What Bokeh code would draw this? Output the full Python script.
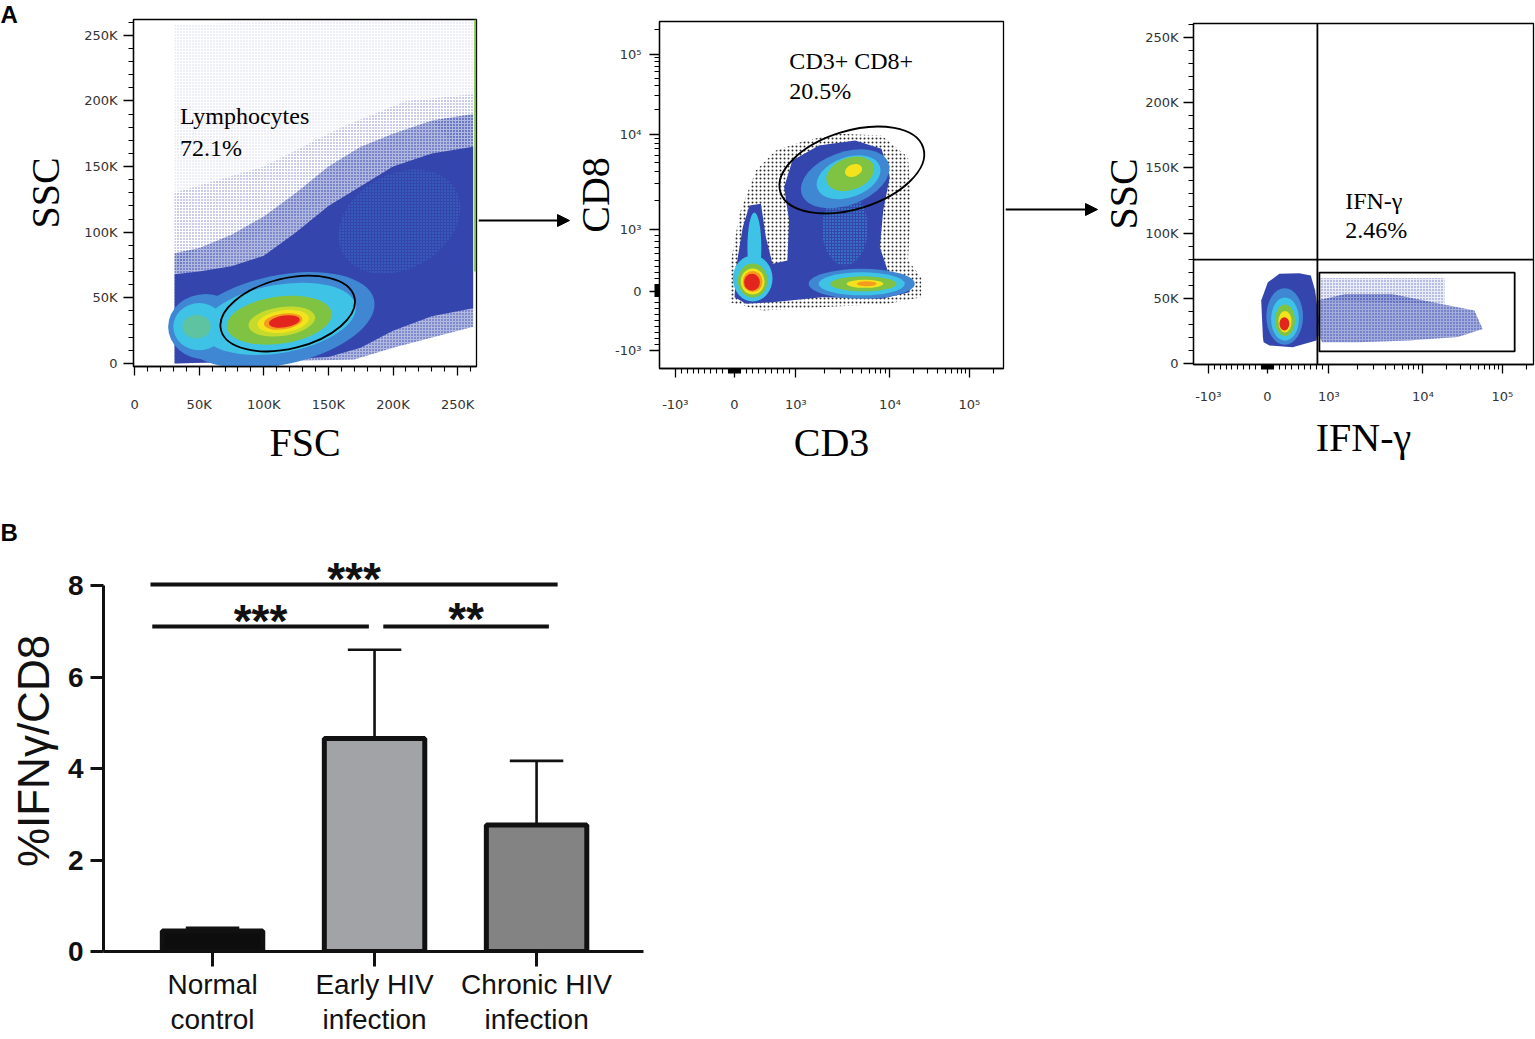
import math
from bokeh.plotting import figure
from bokeh.layouts import row, column
from bokeh.models import Range1d, FixedTicker, Label, Arrow, NormalHead, ColumnDataSource
from bokeh.core.properties import value
from bokeh.embed import file_html
from bokeh.resources import INLINE

# ======================= DATA =======================
# ---- A1 : FSC vs SSC (values in K) ----
scatter_ticks = [0, 50, 100, 150, 200, 250]
scatter_tick_labels = ["0", "50K", "100K", "150K", "200K", "250K"]
scatter_minor = [v for v in range(0, 261, 10) if v % 50]

a1_sparse_x = [31, 31, 150, 262, 262, 200, 140, 90, 55]
a1_sparse_y = [60, 258, 262, 262, 170, 150, 120, 95, 75]
a1_near_x = [31, 31, 100, 160, 210, 262, 262, 230, 200, 175, 150, 125, 100, 75, 50]
a1_near_y = [70, 130, 150, 180, 200, 205, 150, 185, 175, 165, 150, 130, 112, 98, 88]
a1_medium_x = [31, 170, 200, 262, 262, 230, 200, 175, 150, 125, 100, 75, 50, 31]
a1_medium_y = [0, 3, 12, 28, 190, 185, 175, 165, 150, 130, 112, 98, 88, 84]
a1_dense_x = [31, 100, 150, 175, 200, 230, 262, 262, 230, 200, 175, 150, 125, 100, 75, 50, 31]
a1_dense_y = [0, 2, 5, 12, 25, 36, 42, 165, 160, 150, 135, 120, 100, 82, 74, 70, 68]
a1_speckle = dict(x=[205], y=[108], w=[100], h=[72], angle=[30])
a1_pop_x = [112, 55, 112, 50, 48, 112, 114, 115, 115, 116]
a1_pop_y = [33, 28, 34, 28, 28, 33, 32, 32, 32, 32]
a1_pop_w = [150, 58, 120, 40, 22, 82, 52, 40, 30, 24]
a1_pop_h = [68, 50, 52, 36, 18, 36, 22, 17, 12, 9]
a1_pop_angle = [12, 0, 10, 0, 0, 8, 8, 8, 8, 8]
a1_pop_level = [1, 1, 2, 2, 3, 4, 5, 6, 7, 8]
a1_gate = dict(x=[118.5], y=[38], w=[106.3], h=[53.5], angle=[13.7])
a1_gate_name, a1_gate_pct = "Lymphocytes", "72.1%"

# ---- biexponential axes (A2, A3) ----
biex_tick_values = [-1000, 0, 1000, 10000, 100000]
biex_tick_labels = ["-10³", "0", "10³", "10⁴", "10⁵"]
biex_minor_values = ([-100 * k for k in range(1, 10)] + [-10 * k for k in range(1, 10)] +
                     [10 * k for k in range(1, 10)] + [100 * k for k in range(1, 10)] +
                     [1000 * k for k in range(2, 10)] + [10000 * k for k in range(2, 10)] + [200000])

# ---- A2 : CD3 vs CD8 (display units) ----
a2_halo_x = [54.7, 56.3, 64.7, 81.3, 101.3, 131.3, 164.7, 208, 234.7, 238, 234.7, 248, 248, 214.7, 148, 88]
a2_halo_y = [48.3, 90, 136.7, 180, 200, 210, 216.7, 215, 193.3, 146.7, 90, 73.3, 53.3, 46.7, 43.3, 40]
a2_dense_x = [59.7, 61.3, 68, 74.7, 86.3, 91.3, 98, 113, 114.7, 109.7, 118, 144.7, 181.3, 208, 216.3,
              209.7, 206.3, 214.7, 236.3, 236.3, 208, 148, 98, 71.3]
a2_dense_y = [53.3, 83.3, 123.3, 145, 146.7, 113.3, 86.7, 90, 130, 163.3, 190, 205, 210, 201.7, 173.3,
              140, 103.3, 78.3, 73.3, 58.3, 51.7, 53.3, 48.3, 46.7]
a2_speckle = dict(x=[171], y=[122], w=[46], h=[74], angle=[0])
a2_pop_x = [171.3, 174.7, 176.3, 179.7, 79.7, 78, 78, 78, 78, 77.3, 188, 188, 189.7, 191.3, 193]
a2_pop_y = [171.7, 173.3, 176.7, 180, 103, 72, 70, 69, 69, 68.3, 66.7, 66.7, 66.7, 66.7, 66.7]
a2_pop_w = [93, 67, 50, 18, 14, 40, 30, 24, 20, 16, 107, 87, 67, 37, 20]
a2_pop_h = [53, 40, 32, 12, 70, 46, 34, 26, 21, 17, 30, 23, 15, 8, 5]
a2_pop_angle = [20, 20, 20, 20, 0, 0, 0, 0, 0, 0, 0, 0, 0, 0, 0]
a2_pop_level = [1, 2, 4, 6, 2, 2, 4, 6, 7, 8, 1, 2, 4, 6, 7]
a2_gate = dict(x=[178], y=[180.5], w=[150.9], h=[78.2], angle=[17.2])
a2_gate_name, a2_gate_pct = "CD3+ CD8+", "20.5%"

# ---- A3 : IFN-γ (display units) vs SSC (K) ----
a3_dense_x = [55, 53.3, 60, 71.7, 91.7, 103.3, 107.7, 111.7, 109, 85, 61.7, 55.7]
a3_dense_y = [20.2, 48.2, 62.3, 68.7, 69.2, 67.4, 55.9, 32.9, 17.6, 12.5, 13.8, 16.3]
a3_pos_x = [110, 138.3, 185, 235, 268.3, 276.7, 251.7, 201.7, 151.7, 115, 110]
a3_pos_y = [48.2, 53.3, 53.3, 45.6, 40.5, 26.5, 20.2, 17.6, 16.3, 16.3, 22.7]
a3_sparse_x = [111.7, 238.3, 238.3, 111.7]
a3_sparse_y = [65.6, 65.6, 45.6, 48.2]
a3_pop_x = [77, 77.3, 77.3, 77.3, 76.7]
a3_pop_y = [36, 34, 33, 32, 30.4]
a3_pop_w = [37, 28, 20, 13.3, 10]
a3_pop_h = [43.4, 33.2, 24.3, 16.6, 10.2]
a3_pop_level = [1, 2, 4, 6, 8]
a3_quad_x, a3_quad_y = 110, 79.6
a3_box = dict(left=112, right=309, bottom=9.2, top=69.7)
a3_gate_name, a3_gate_pct = "IFN-γ", "2.46%"

# ---- B : bar chart ----
groups = ["Normal\ncontrol", "Early HIV\ninfection", "Chronic HIV\ninfection"]
means = [0.45, 4.66, 2.77]
sds = [0.07, 1.94, 1.40]
bar_colors = ["#0d0d0d", "#a2a3a7", "#828382"]
sig_x0 = [0.617, 0.628, 2.054]
sig_x1 = [3.130, 1.965, 3.076]
sig_y = [8.03, 7.11, 7.11]
sig_text_y = [8.14, 7.23, 7.27]
sig_labels = ["***", "***", "**"]

# ======================= STYLE =======================
PAL = ["#3446ad", "#3f86d3", "#3ec3e6", "#5ec3a0", "#80c342", "#c6da2c", "#f3e31c", "#f59b1d", "#e3261d"]
SERIF = "Liberation Serif"
SANS = "Liberation Sans"
TICKFONT = "DejaVu Sans"
ROW1_H = 470


def biex(v):
    if v < 0:
        return 59.5 + v * 0.0595
    if v <= 1000:
        return 59.5 + v * 0.062
    lv = math.log10(v)
    if lv <= 4:
        return 121.5 + (lv - 3) * 95
    return 216.5 + (lv - 4) * 80


def mapper(fl, ft, fw, fh, xr, yr):
    def f(px, py):
        return (xr[0] + (px - fl) / fw * (xr[1] - xr[0]),
                yr[1] - (py - ft) / fh * (yr[1] - yr[0]))
    return f


def no_align(p):
    if "frame_align" in p.properties():
        p.frame_align = False
    return p


def make_fig(width, height, fl, ft, fw, fh, xr, yr):
    p = figure(width=width, height=height, x_range=Range1d(*xr), y_range=Range1d(*yr),
               output_backend="svg", toolbar_location=None,
               min_border_left=fl, min_border_top=ft,
               min_border_right=width - fl - fw, min_border_bottom=height - ft - fh)
    p.grid.visible = False
    p.background_fill_color = "white"
    p.border_fill_color = "white"
    return no_align(p)


def blank_fig(w, h):
    p = figure(width=w, height=h, x_range=Range1d(0, w), y_range=Range1d(0, h),
               x_axis_type=None, y_axis_type=None, min_border=0,
               output_backend="svg", toolbar_location=None)
    p.outline_line_color = None
    p.grid.visible = False
    p.background_fill_color = "white"
    p.border_fill_color = "white"
    return no_align(p)


def style_flow_axis(ax, ticks, minor, labels, title, tick_stand, label_stand, tick_out=9):
    ax.ticker = FixedTicker(ticks=ticks, minor_ticks=minor)
    ax.major_label_overrides = dict(zip(ticks, labels))
    ax.axis_line_color = "black"
    ax.axis_line_width = 1.3
    ax.major_tick_line_color = "black"
    ax.major_tick_line_width = 1.3
    ax.minor_tick_line_color = "black"
    ax.minor_tick_line_width = 1.1
    ax.major_tick_in = 0
    ax.major_tick_out = tick_out
    ax.minor_tick_in = 0
    ax.minor_tick_out = 5
    ax.major_label_text_font = TICKFONT
    ax.major_label_text_font_size = "13px"
    ax.major_label_text_color = "#333333"
    ax.major_label_standoff = tick_stand
    ax.axis_label = title
    ax.axis_label_text_font = SERIF
    ax.axis_label_text_font_size = "40px"
    ax.axis_label_text_font_style = "normal"
    ax.axis_label_text_color = "black"
    ax.axis_label_standoff = label_stand


def draw_pops(p, xs, ys, ws, hs, angles, levels):
    src = ColumnDataSource(dict(x=xs, y=ys, w=ws, h=hs, a=angles, c=[PAL[l] for l in levels]))
    p.ellipse(x="x", y="y", width="w", height="h", angle="a", angle_units="deg",
              fill_color="c", line_color=None, source=src)


def dots(p, xs, ys, color, alpha, tint=0.0):
    p.patch(xs, ys, fill_color=color, fill_alpha=tint, line_color=None, hatch_pattern="dot",
            hatch_color=color, hatch_scale=3, hatch_alpha=alpha)


def gate_labels(p, m, px, py1, py2, t1, t2):
    for py, t in ((py1, t1), (py2, t2)):
        x, y = m(px, py)
        p.add_layout(Label(x=x, y=y, text=t, text_font=SERIF, text_font_size="24px",
                           text_baseline="middle", text_color="black"))


def arrow_fig(w, y_page, tip):
    p = blank_fig(w, ROW1_H)
    y = ROW1_H - y_page
    p.add_layout(Arrow(end=NormalHead(size=12, fill_color="black", line_color="black", line_width=1),
                       x_start=0, y_start=y, x_end=tip, y_end=y, line_width=2, line_color="black"))
    return p


biex_major = [round(biex(v), 2) for v in biex_tick_values]
biex_minor = [round(biex(v), 2) for v in biex_minor_values]

# ======================= panel letter A =======================
figA = blank_fig(20, ROW1_H)
figA.text(x=[0], y=[ROW1_H - 14], text=["A"], text_font=value(SANS), text_font_size="24px",
          text_font_style="bold", text_baseline="alphabetic", text_align="left", text_color="black")

# ======================= A1 =======================
X1R, Y1R = (-0.8, 264.6), (-2.3, 262.0)
p1 = make_fig(458, ROW1_H, 109, 19, 347, 347, X1R, Y1R)
m1 = mapper(129, 19, 347, 347, X1R, Y1R)
dots(p1, a1_sparse_x, a1_sparse_y, PAL[0], 0.22)
dots(p1, a1_near_x, a1_near_y, PAL[0], 0.5)
dots(p1, a1_medium_x, a1_medium_y, PAL[0], 1.0, 0.38)
p1.patch(a1_dense_x, a1_dense_y, fill_color=PAL[0], line_color=None)
p1.ellipse(x=a1_speckle["x"], y=a1_speckle["y"], width=a1_speckle["w"], height=a1_speckle["h"],
           angle=a1_speckle["angle"], angle_units="deg", fill_color=None, line_color=None,
           hatch_pattern="dot", hatch_color=PAL[1], hatch_scale=3, hatch_alpha=0.8)
draw_pops(p1, a1_pop_x, a1_pop_y, a1_pop_w, a1_pop_h, a1_pop_angle, a1_pop_level)
p1.ellipse(x=a1_gate["x"], y=a1_gate["y"], width=a1_gate["w"], height=a1_gate["h"],
           angle=a1_gate["angle"], angle_units="deg", fill_color=None, line_color="black", line_width=1.8)
p1.segment(x0=[263.6], y0=[70], x1=[263.6], y1=[262], line_color="#7cc242", line_width=2)
p1.outline_line_color = "black"
p1.outline_line_width = 1.3
style_flow_axis(p1.xaxis[0], scatter_ticks, scatter_minor, scatter_tick_labels, "FSC", 21, 5)
style_flow_axis(p1.yaxis[0], scatter_ticks, scatter_minor, scatter_tick_labels, "SSC", 6, 13, 10)
gate_labels(p1, m1, 176, 115, 147, a1_gate_name, a1_gate_pct)

arrow1 = arrow_fig(92, 220, 91)

# ======================= A2 =======================
X2R, Y2R = (-16, 331), (-18, 329)
p2 = make_fig(435, ROW1_H, 86, 21, 347, 347, X2R, Y2R)
m2 = mapper(656, 21, 347, 347, X2R, Y2R)
p2.patch(a2_halo_x, a2_halo_y, fill_color=None, line_color=None,
         hatch_pattern="dot", hatch_color="#111111", hatch_scale=4, hatch_alpha=0.9)
p2.patch(a2_dense_x, a2_dense_y, fill_color=PAL[0], line_color=None)
p2.ellipse(x=a2_speckle["x"], y=a2_speckle["y"], width=a2_speckle["w"], height=a2_speckle["h"],
           angle=a2_speckle["angle"], angle_units="deg", fill_color=None, line_color=None,
           hatch_pattern="dot", hatch_color=PAL[2], hatch_scale=3, hatch_alpha=0.8)
draw_pops(p2, a2_pop_x, a2_pop_y, a2_pop_w, a2_pop_h, a2_pop_angle, a2_pop_level)
p2.ellipse(x=a2_gate["x"], y=a2_gate["y"], width=a2_gate["w"], height=a2_gate["h"],
           angle=a2_gate["angle"], angle_units="deg", fill_color=None, line_color="black", line_width=1.8)
p2.outline_line_color = "black"
p2.outline_line_width = 1.3
style_flow_axis(p2.xaxis[0], biex_major, biex_minor, biex_tick_labels, "CD3", 19, 5)
style_flow_axis(p2.yaxis[0], biex_major, biex_minor, biex_tick_labels, "CD8", 8, -6, 10)
gate_labels(p2, m2, 787, 60, 90, a2_gate_name, a2_gate_pct)

arrow2 = arrow_fig(93, 209, 92)

# ======================= A3 =======================
X3R, Y3R = (-15, 328), (-0.8, 260.6)
p3 = make_fig(437, ROW1_H, 92, 23, 343, 341, X3R, Y3R)
m3 = mapper(1190, 23, 343, 341, X3R, Y3R)
dots(p3, a3_sparse_x, a3_sparse_y, PAL[0], 0.7, 0.1)
dots(p3, a3_pos_x, a3_pos_y, PAL[0], 1.0, 0.45)
p3.patch(a3_dense_x, a3_dense_y, fill_color=PAL[0], line_color=None)
draw_pops(p3, a3_pop_x, a3_pop_y, a3_pop_w, a3_pop_h, [0] * len(a3_pop_x), a3_pop_level)
p3.segment(x0=[a3_quad_x], y0=[Y3R[0]], x1=[a3_quad_x], y1=[Y3R[1]], line_color="black", line_width=1.8)
p3.segment(x0=[X3R[0]], y0=[a3_quad_y], x1=[X3R[1]], y1=[a3_quad_y], line_color="black", line_width=1.8)
p3.quad(left=[a3_box["left"]], right=[a3_box["right"]], bottom=[a3_box["bottom"]], top=[a3_box["top"]],
        fill_color=None, line_color="black", line_width=1.8)
p3.outline_line_color = "black"
p3.outline_line_width = 1.3
style_flow_axis(p3.xaxis[0], biex_major, biex_minor, biex_tick_labels, "IFN-γ", 15, 8)
style_flow_axis(p3.yaxis[0], scatter_ticks, scatter_minor, scatter_tick_labels, "SSC", 5, -4, 10)
gate_labels(p3, m3, 1343, 200, 229, a3_gate_name, a3_gate_pct)

# ======================= panel letter B =======================
FIGB_H = 80
figB = blank_fig(650, FIGB_H)
figB.text(x=[0], y=[18], text=["B"], text_font=value(SANS), text_font_size="24px",
          text_font_style="bold", text_baseline="alphabetic", text_align="left", text_color="black")

# ======================= B =======================
# frame spans page y 550 (top) .. 954 (value 0), 46.05 px per unit
XBR, YBR = (0.327, 3.660), (0.0, 8.773)
p4 = make_fig(650, 488, 103, 0, 540, 404, XBR, YBR)
xs = [1, 2, 3]
p4.vbar(x=xs, top=means, width=0.62, bottom=0, fill_color=bar_colors, line_color="#111111", line_width=5)
tops = [m + s for m, s in zip(means, sds)]
p4.segment(x0=xs, y0=means, x1=xs, y1=tops, line_color="#111111", line_width=2.6)
p4.segment(x0=[x - 0.165 for x in xs], y0=tops, x1=[x + 0.165 for x in xs], y1=tops,
           line_color="#111111", line_width=2.6)
p4.segment(x0=sig_x0, y0=sig_y, x1=sig_x1, y1=sig_y, line_color="#111111", line_width=4)
p4.text(x=[(a + b) / 2 for a, b in zip(sig_x0, sig_x1)], y=sig_text_y, text=sig_labels,
        text_font=value(SANS), text_font_size="46px", text_font_style="bold",
        text_align="center", text_baseline="alphabetic", text_color="#111111")
p4.outline_line_color = None
xa = p4.xaxis[0]
xa.ticker = FixedTicker(ticks=xs)
xa.major_label_overrides = dict(zip(xs, groups))
xa.axis_line_width = 3
xa.axis_line_color = "#111111"
xa.major_tick_line_width = 3
xa.major_tick_line_color = "#111111"
xa.major_tick_in = 0
xa.major_tick_out = 15
xa.minor_tick_line_color = None
xa.major_label_text_font = SANS
xa.major_label_text_font_size = "28px"
xa.major_label_text_line_height = 1.15
xa.major_label_text_color = "#111111"
xa.major_label_standoff = 2
ya = p4.yaxis[0]
ya.ticker = FixedTicker(ticks=[0, 2, 4, 6, 8])
ya.bounds = (0, 8)
ya.axis_line_width = 3
ya.axis_line_color = "#111111"
ya.major_tick_line_width = 3
ya.major_tick_line_color = "#111111"
ya.major_tick_in = 0
ya.major_tick_out = 13
ya.minor_tick_line_color = None
ya.major_label_text_font = SANS
ya.major_label_text_font_size = "28px"
ya.major_label_text_font_style = "bold"
ya.major_label_text_color = "#111111"
ya.major_label_standoff = 7
ya.axis_label = "%IFNγ/CD8"
ya.axis_label_text_font = SANS
ya.axis_label_text_font_size = "44px"
ya.axis_label_text_font_style = "normal"
ya.axis_label_text_color = "#111111"
ya.axis_label_standoff = 7

layout = column(row(figA, p1, arrow1, p2, arrow2, p3), column(figB, p4))
open("out.html", "w").write(file_html(layout, INLINE, title="IFN-gamma CD8"))
